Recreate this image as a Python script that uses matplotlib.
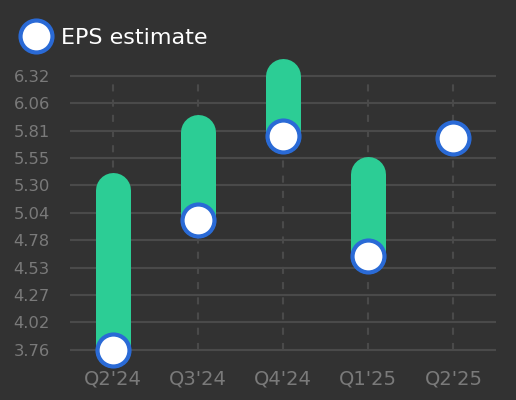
import numpy as np
import matplotlib
matplotlib.use("Agg")
import matplotlib.pyplot as plt
from matplotlib.lines import Line2D

quarters = ["Q2'24", "Q3'24", "Q4'24", "Q1'25", "Q2'25"]
eps_estimate = [3.76, 4.97, 5.76, 4.64, 5.74]
eps_high = [5.25, 5.80, 6.32, 5.40, None]
legend_label = "EPS estimate"

BG = "#323232"
GRID = "#4a4a4a"
TICK = "#7a7a7a"
GREEN = "#2ccd95"
BLUE = "#2a6ad6"

fig = plt.figure(figsize=(5.16, 4.0), dpi=100, facecolor=BG)
ax = fig.add_axes([70 / 516, 35 / 400, 426 / 516, 315 / 400])
ax.set_facecolor(BG)

x = np.arange(len(quarters))
lo = min(eps_estimate)
hi = max(v for v in eps_high if v is not None)
ticks = np.linspace(lo, hi, 11)

# vertical dashed guides over the tick range
ax.vlines(x, lo, hi, colors=GRID, linestyles=(0, (3.4, 3.9)), linewidth=1.5, zorder=1)

# range bars
for xi, est, h in zip(x, eps_estimate, eps_high):
    if h is None:
        continue
    ax.plot([xi, xi], [est, h], color=GREEN, linewidth=25.2,
            solid_capstyle="round", zorder=3, clip_on=False)

ax.plot(x, eps_estimate, linestyle="none", marker="o", markersize=23,
        markerfacecolor="white", markeredgecolor=BLUE, markeredgewidth=3.0,
        zorder=4, clip_on=False)

ax.set_xlim(-0.5, len(quarters) - 0.5)
ax.set_ylim(lo - 0.143, hi + 0.243)
ax.set_yticks(ticks)
ax.set_yticklabels([f"{t:.2f}" for t in ticks])
ax.set_xticks(x)
ax.set_xticklabels(quarters)

ax.yaxis.grid(True, color=GRID, linewidth=1.5)
ax.set_axisbelow(True)
for s in ax.spines.values():
    s.set_visible(False)
ax.tick_params(axis="y", length=0, pad=14.5, labelsize=11.8, labelcolor=TICK)
ax.tick_params(axis="x", length=0, pad=3, labelsize=14, labelcolor=TICK)

handle = Line2D([], [], linestyle="none", marker="o", markersize=23,
                markerfacecolor="white", markeredgecolor=BLUE, markeredgewidth=3.0)
leg = fig.legend([handle], [legend_label], loc="center left",
                 bbox_to_anchor=(25 / 516, 362 / 400), frameon=False,
                 fontsize=16, handlelength=1.0, handletextpad=0.63,
                 borderpad=0, borderaxespad=0)
for t in leg.get_texts():
    t.set_color("white")

fig.savefig("out.png", dpi=100, facecolor=BG)
